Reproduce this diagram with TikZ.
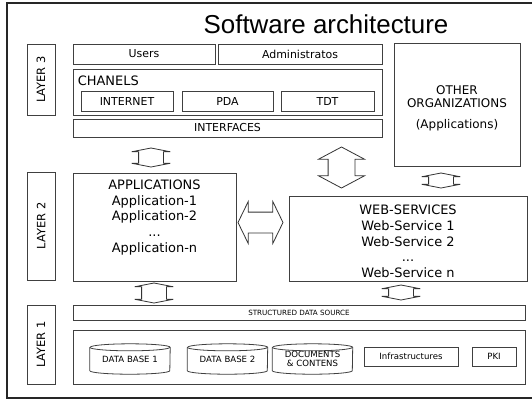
\documentclass[tikz,border=0pt]{standalone}
\usepackage{fontspec}
\setmainfont{DejaVu Sans}
\newfontfamily\titlefont{Liberation Sans}
\usetikzlibrary{shapes.arrows}

\tikzset{
  box/.style={draw=black!75, line width=0.8bp, fill=white, inner sep=0pt,
    font=\fontsize{11}{13}\selectfont},
  layerbox/.style={box, rotate=90, minimum height=28bp, font=\fontsize{11.5}{13}\selectfont},
  smallbox/.style={box, font=\fontsize{8.6}{9.6}\selectfont},
  dbbox/.style={inner sep=0pt, minimum width=80bp, minimum height=30bp, align=center,
    font=\fontsize{8.6}{9.6}\selectfont},
  cyl/.style={draw=black!75, line width=0.8bp},
  bigtxt/.style={inner sep=0pt, align=center, font=\fontsize{13}{15.8}\selectfont},
  dblarrow/.style={double arrow, draw=black!80, line width=0.8bp, fill=white,
    inner xsep=0pt, inner ysep=12bp, minimum width=0pt,
    double arrow head extend=7bp, double arrow tip angle=158},
}

\begin{document}
\begin{tikzpicture}[x=1bp, y=-1bp]
  \useasboundingbox (0,0) rectangle (532,401);
  \fill[white] (0,0) rectangle (532,401);
  \draw[line width=1.3bp, black!85] (7,3) rectangle (540,398);
  \node[anchor=base, inner sep=0pt, font=\titlefont\fontsize{26}{30}\selectfont] (title) at (326,33) {Software architecture};

  % layer 3
  \node[layerbox, minimum width=71bp] (layer3) at (41,79.5) {LAYER 3};
  \node[box, minimum width=142bp, minimum height=20bp] (users) at (144,54) {Users};
  \node[box, minimum width=164bp, minimum height=20bp] (admins) at (300,54) {Administratos};
  \node[box, minimum width=309bp, minimum height=46bp] (chanels) at (227.5,92) {};
  \node[anchor=north west, inner sep=0pt, font=\fontsize{13}{15}\selectfont] (chtitle)
    at ([xshift=5bp,yshift=-7bp]chanels.north west) {CHANELS};
  \node[box, minimum width=92bp, minimum height=20bp] (internet) at (127,101) {INTERNET};
  \node[box, minimum width=91bp, minimum height=20bp] (pda) at (227.5,101) {PDA};
  \node[box, minimum width=93bp, minimum height=20bp] (tdt) at (327.5,101) {TDT};
  \node[box, minimum width=309bp, minimum height=18bp] (interfaces) at (227.5,128) {INTERFACES};
  \node[box, minimum width=126bp, minimum height=123bp] (others) at (457,104.5) {};
  \node[inner sep=0pt, align=center, font=\fontsize{12}{13}\selectfont] (othtxt)
    at ([yshift=-4bp]others.center) {OTHER\\ORGANIZATIONS\\[8bp](Applications)};

  % layer 2
  \node[layerbox, minimum width=108bp] (layer2) at (41,226) {LAYER 2};
  \node[box, minimum width=163bp, minimum height=108bp] (apps) at (154.5,227) {};
  \node[bigtxt, anchor=north] (appstxt) at ([yshift=-7bp]apps.north)
    {APPLICATIONS\\Application-1\\Application-2\\...\\Application-n};
  \node[box, minimum width=238bp, minimum height=85bp] (websrv) at (408,238.5) {};
  \node[bigtxt] (webtxt) at ([yshift=-3bp]websrv.center)
    {WEB-SERVICES\\Web-Service 1\\Web-Service 2\\...\\Web-Service n};

  % layer 1
  \node[layerbox, minimum width=79bp] (layer1) at (41,344.5) {LAYER 1};
  \node[box, minimum width=452bp, minimum height=15bp, font=\fontsize{7.2}{8}\selectfont] (sds) at (299,312.5) {STRUCTURED DATA SOURCE};
  \node[box, minimum width=452bp, minimum height=54bp] (store) at (299,357) {};
  \node[dbbox] (db1) at (130,359) {DATA BASE 1};
  \node[dbbox] (db2) at (227.5,359) {DATA BASE 2};
  \node[dbbox] (docs) at (312.5,359) {DOCUMENTS\\\& CONTENS};
  \foreach \n in {db1,db2,docs} {
    \draw[cyl] ([yshift=-3.5bp]\n.north west) -- ([yshift=3.5bp]\n.south west)
      arc[start angle=180, end angle=360, x radius=40bp, y radius=3.5bp]
      -- ([yshift=-3.5bp]\n.north east)
      arc[start angle=0, end angle=180, x radius=40bp, y radius=3.5bp];
    \draw[cyl] ([yshift=-3.5bp]\n.north west)
      arc[start angle=180, end angle=360, x radius=40bp, y radius=3.5bp];
  }
  \node[smallbox, minimum width=94bp, minimum height=19bp] (infra) at (411,356.5) {Infrastructures};
  \node[smallbox, minimum width=44bp, minimum height=19bp] (pki) at (494,356.5) {PKI};

  % arrows between the blocks
  \node[dblarrow, rotate=90, minimum height=19bp] (a1) at (151,157.5) {};
  \node[dblarrow, rotate=90, minimum height=41bp, inner ysep=13bp,
    double arrow head extend=9.5bp, double arrow tip angle=124] (a2) at (341.5,167.5) {};
  \node[dblarrow, rotate=90, minimum height=15bp] (a3) at (441,180.5) {};
  \node[dblarrow, minimum height=45bp, inner ysep=10bp,
    double arrow head extend=10.5bp, double arrow tip angle=128] (a6) at (260.5,222.5) {};
  \node[dblarrow, rotate=90, minimum height=20bp] (a4) at (154,293) {};
  \node[dblarrow, rotate=90, minimum height=15bp] (a5) at (401,292.5) {};
\end{tikzpicture}
\end{document}
